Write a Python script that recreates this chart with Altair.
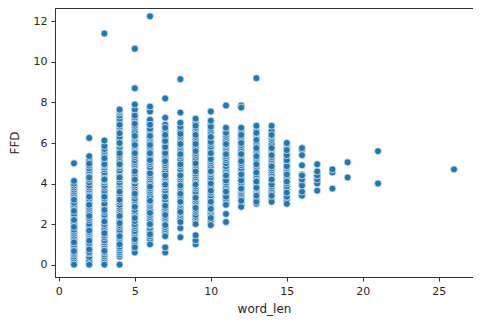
import altair as alt
import pandas as pd

# Lighter, densely packed readings are listed first; the distinct dots are drawn last.
dense = {
    1: [0.1,0.2,0.3,0.4,0.5,0.58,0.8,0.9,0.98,1.2,1.3,1.4,1.52,1.62,1.72,1.98,2.08,2.3,2.4,2.5,2.75,2.85,2.95,3.05,3.3,3.4,3.5,3.6,3.7,3.8,3.9,4.0],
    2: [0.1,0.2,0.38,0.55,0.62,0.85,0.95,1.05,1.3,1.42,1.52,1.6,1.8,1.9,2.0,2.2,2.3,2.5,2.6,2.75,2.85,3.05,3.15,3.25,3.45,3.6,3.7,3.8,3.9,4.05,4.2,4.4,4.55,4.65,4.75,4.88,5.05,5.15],
    3: [0.08,0.18,0.3,0.4,0.5,0.6,0.75,0.9,1.0,1.1,1.2,1.35,1.45,1.65,1.75,1.9,2.0,2.25,2.35,2.45,2.6,2.8,2.9,3.0,3.25,3.45,3.55,3.65,3.8,3.9,4.05,4.15,4.3,4.45,4.55,4.7,4.8,4.9,5.05,5.15,5.4,5.5,5.6,5.7],
    4: [0.4,0.5,0.6,0.7,0.8,0.88,1.1,1.2,1.3,1.5,1.6,1.7,1.85,1.95,2.1,2.2,2.35,2.5,2.6,2.75,2.85,2.95,3.1,3.3,3.4,3.5,3.7,3.8,3.95,4.05,4.2,4.4,4.55,4.65,4.8,4.9,5.0,5.1,5.3,5.4,5.6,5.7,5.8,5.95,6.1,6.2,6.3,6.6,6.7,6.8,7.0,7.1,7.2,7.35,7.5,7.58],
    5: [0.75,0.95,1.05,1.15,1.35,1.45,1.55,1.65,1.8,1.9,2.0,2.15,2.4,2.5,2.6,2.7,2.95,3.05,3.15,3.25,3.4,3.55,3.65,3.8,3.9,4.0,4.15,4.3,4.4,4.5,4.7,4.85,4.95,5.05,5.15,5.3,5.4,5.55,5.65,5.75,5.85,6.0,6.1,6.2,6.3,6.45,6.55,6.75,6.85,7.05,7.15,7.25,7.45,7.65],
    6: [1.1,1.25,1.4,1.6,1.7,1.8,1.95,2.1,2.2,2.35,2.45,2.6,2.7,2.9,3.0,3.1,3.25,3.35,3.55,3.65,3.75,3.95,4.05,4.2,4.3,4.4,4.55,4.7,4.8,4.95,5.05,5.25,5.35,5.45,5.6,5.7,5.8,5.95,6.05,6.2,6.3,6.45,6.6,6.7,7.0,7.1,7.15,7.7],
    7: [0.85,1.55,1.65,1.75,1.85,2.15,2.25,2.35,2.5,2.6,2.7,2.8,3.0,3.1,3.2,3.45,3.55,3.65,3.8,3.9,4.0,4.2,4.3,4.5,4.6,4.8,4.9,5.0,5.2,5.3,5.4,5.6,5.7,5.9,6.0,6.2,6.3,6.5,6.6,6.9],
    8: [2.2,2.3,2.45,2.55,2.7,2.8,2.95,3.05,3.2,3.3,3.4,3.6,3.7,3.8,3.95,4.1,4.2,4.3,4.45,4.6,4.7,4.85,5.0,5.1,5.2,5.35,5.5,5.6,5.7,5.8,5.9,6.0,6.1,6.25,6.35,6.55,6.65,6.8],
    9: [1.2,2.15,2.25,2.35,2.45,2.6,2.7,2.9,3.0,3.1,3.2,3.35,3.5,3.6,3.75,3.85,4.05,4.15,4.3,4.4,4.5,4.65,4.75,4.9,5.05,5.15,5.25,5.4,5.5,5.7,5.8,6.05,6.15,6.3,6.55,6.65,6.75,7.0],
    10: [2.05,2.15,2.4,2.5,2.6,2.7,2.85,3.0,3.15,3.25,3.4,3.55,3.7,3.85,4.1,4.2,4.3,4.45,4.55,4.7,4.85,5.0,5.1,5.3,5.4,5.55,5.7,5.8,5.95,6.15,6.25,6.35,6.55,6.7,6.9],
    11: [3.05,3.15,3.25,3.45,3.55,3.7,3.8,3.95,4.05,4.2,4.3,4.5,4.6,4.75,4.85,5.0,5.15,5.25,5.35,5.55,5.7,5.8,5.9,6.05,6.15,6.3,6.4,6.6],
    12: [2.95,3.3,3.4,3.5,3.6,3.7,3.85,3.95,4.05,4.2,4.3,4.55,4.65,4.75,4.9,5.0,5.2,5.3,5.4,5.55,5.65,5.8,5.9,6.1,6.2,6.3,6.5,6.65,7.85],
    13: [3.05,3.15,3.25,3.55,3.65,3.75,3.9,4.0,4.2,4.3,4.45,4.65,4.75,4.85,5.05,5.15,5.25,5.45,5.55,5.65,5.85,5.95,6.05,6.25,6.35,6.45,6.6],
    14: [3.25,3.35,3.5,3.6,3.75,3.85,4.0,4.15,4.3,4.4,4.55,4.65,4.75,4.9,5.0,5.1,5.2,5.35,5.5,5.6,5.7,5.85,5.95,6.15,6.25,6.35,6.5,6.6],
    15: [3.2,3.35,3.7,3.85,4.0,4.2,4.3,4.55,4.65,4.75,4.95,5.05,5.25,5.35,5.5,5.75,5.85,5.95],
    16: [3.5,4.0,4.45,5.65],
    17: [4.1,4.3,4.5],
    18: [4.6],
    19: [],
    21: [],
    26: [],
}
distinct = {
    1: [0.0,0.67,1.1,1.86,2.2,2.65,3.2,4.13,5.0],
    2: [0.0,0.75,1.18,1.68,2.4,2.95,3.35,4.3,4.98,5.35,6.25],
    3: [0.0,0.68,1.55,2.13,2.7,3.35,4.2,4.95,5.25,5.85,6.12,11.4],
    4: [0.0,1.0,1.4,2.05,2.4,3.2,3.6,4.3,4.95,5.5,6.0,6.48,6.9,7.65],
    5: [0.6,0.85,1.25,2.3,2.85,3.5,4.2,4.6,5.5,5.9,6.35,6.95,7.35,7.9,8.7,10.65],
    6: [1.0,1.5,2.0,2.55,3.15,3.85,4.5,5.15,5.5,5.9,6.35,6.9,7.55,7.8,12.25],
    7: [0.6,0.85,1.4,1.95,2.45,2.9,3.35,3.95,4.4,5.1,5.5,5.8,6.1,6.4,6.75,7.25,8.2],
    8: [1.35,1.8,2.1,2.6,3.1,3.5,3.9,4.4,4.95,5.45,5.95,6.45,7.0,7.5,9.15],
    9: [1.0,1.2,1.45,2.0,2.8,3.3,3.95,4.6,5.0,5.6,5.95,6.4,6.85,7.2],
    10: [1.95,2.3,2.75,3.1,3.65,4.0,4.6,5.2,5.5,6.05,6.3,6.8,7.1,7.55],
    11: [2.1,2.5,2.95,3.35,3.6,4.15,4.4,5.45,5.95,6.5,6.75,7.85],
    12: [2.85,3.15,3.75,4.15,4.45,5.1,5.45,6.0,6.4,6.75,7.75],
    13: [3.0,3.1,3.4,3.8,4.1,4.55,4.95,5.35,5.75,6.15,6.5,6.85,9.2],
    14: [3.1,3.4,3.95,4.2,4.85,5.3,5.4,5.75,6.4,6.85],
    15: [3.0,3.55,4.1,4.45,4.85,5.15,5.4,5.65,6.0],
    16: [3.4,3.6,3.9,4.2,4.4,4.9,5.4,5.75],
    17: [3.65,4.0,4.2,4.4,4.6,4.95],
    18: [3.75,4.55,4.7],
    19: [4.3,5.05],
    21: [4.0,5.6],
    26: [4.7],
}

word_len, ffd = [], []
for source in (dense, distinct):
    for k, values in source.items():
        for v in values:
            word_len.append(k)
            ffd.append(v)
data = pd.DataFrame({"word_len": word_len, "FFD": ffd})

chart = (
    alt.Chart(data)
    .mark_circle(size=48, opacity=1, color="#1f77b4", stroke="#d8e6f0", strokeWidth=0.8, clip=True)
    .encode(
        x=alt.X("word_len:Q", title="word_len",
                scale=alt.Scale(domain=[-0.25, 27.25], nice=False, zero=False),
                axis=alt.Axis(values=[0, 5, 10, 15, 20, 25], format="d")),
        y=alt.Y("FFD:Q", title="FFD",
                scale=alt.Scale(domain=[-0.61, 12.66], nice=False, zero=False),
                axis=alt.Axis(values=[0, 2, 4, 6, 8, 10, 12], format="d")),
    )
    .properties(width=418, height=269,
                padding={"left": 0, "top": 0, "right": 0, "bottom": 4})
    .configure_view(stroke="#333333", strokeWidth=1)
    .configure_axis(grid=False, domain=True, domainColor="#333333", tickColor="#333333",
                    tickSize=4, labelColor="#262626", titleColor="#262626",
                    labelFont="DejaVu Sans", titleFont="DejaVu Sans",
                    labelFontSize=11, titleFontSize=12, titleFontWeight="normal",
                    labelPadding=4)
    .configure_axisX(titlePadding=7)
    .configure_axisY(titlePadding=12)
)
chart.save("out.html", embed_options={"renderer": "svg", "actions": False})
